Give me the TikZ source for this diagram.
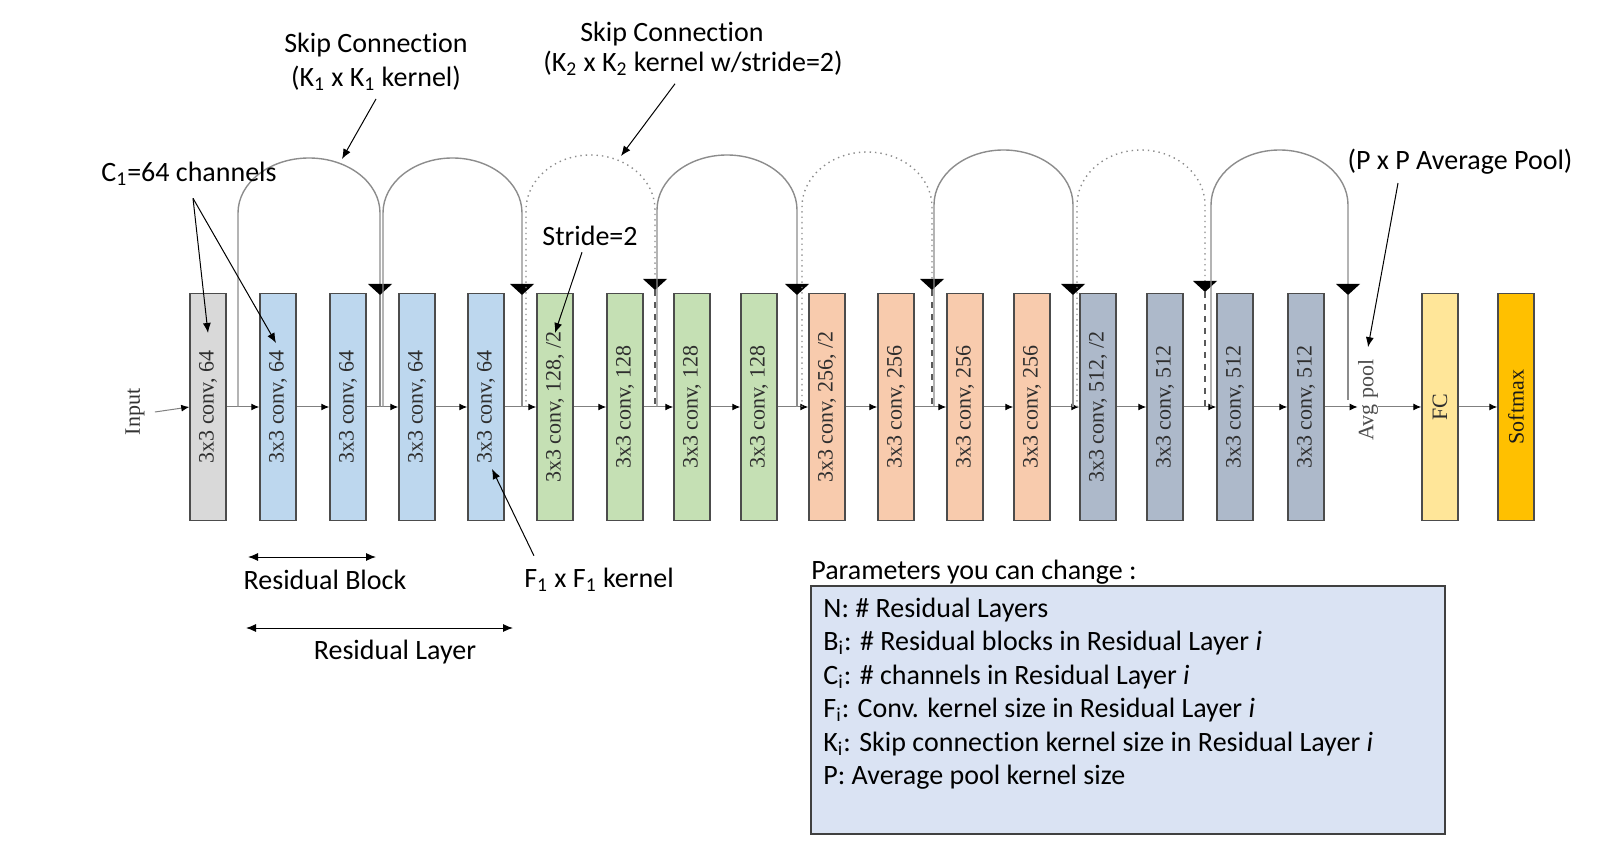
\documentclass[tikz,border=0pt]{standalone}
\usepackage{fontspec}
\setmainfont{Carlito}[Ligatures=NoCommon]
\newfontfamily\tnr{Liberation Serif}
\usepackage{graphicx}
\usetikzlibrary{arrows.meta}

\definecolor{convgray}{HTML}{D9D9D9}
\definecolor{convblue}{HTML}{BDD7EE}
\definecolor{convgreen}{HTML}{C5E0B4}
\definecolor{convorange}{HTML}{F8CBAD}
\definecolor{convslate}{HTML}{ADB9CA}
\definecolor{fcyellow}{HTML}{FFE699}
\definecolor{smaxgold}{HTML}{FFC000}
\definecolor{parblue}{HTML}{DAE3F3}

\begin{document}
\begin{tikzpicture}[x=0.5pt,y=0.5pt]
	\tikzstyle{every node}+=[inner sep=0pt]
	\tikzstyle{convbox}=[draw=black!70, line width=0.75pt, minimum width=18pt, minimum height=113.5pt, text=black!82, font=\tnr\fontsize{11}{13}\selectfont]
	\tikzstyle{flow}=[draw=black!50, line width=0.5pt, -{Latex[black,length=4pt,width=3.5pt]}]
	\tikzstyle{skip}=[draw=black!45, line width=0.7pt]
	\tikzstyle{skipdot}=[draw=black!45, line width=0.7pt, dotted]
	\tikzstyle{skipdash}=[draw=black!65, line width=0.8pt, dashed]
	\tikzstyle{callout}=[draw=black, line width=0.5pt, -{Latex[length=5pt,width=4pt]}]
	\tikzstyle{spanarrow}=[draw=black, line width=0.5pt, {Latex[length=5pt,width=4pt]}-{Latex[length=5pt,width=4pt]}]
	\tikzstyle{note}=[font=\fontsize{14}{16.7}\selectfont]
	\useasboundingbox (0,0) rectangle (1610,-860);
	\node[text=black!80, font=\tnr\fontsize{11}{13}\selectfont] (inp) at (135,-412) {\rotatebox{90}{Input}};
	\node[convbox, fill=convgray] (c0) at (208,-407) {\rotatebox{90}{3x3 conv, 64}};
	\node[convbox, fill=convblue] (c1) at (278,-407) {\rotatebox{90}{3x3 conv, 64}};
	\node[convbox, fill=convblue] (c2) at (348,-407) {\rotatebox{90}{3x3 conv, 64}};
	\node[convbox, fill=convblue] (c3) at (417,-407) {\rotatebox{90}{3x3 conv, 64}};
	\node[convbox, fill=convblue] (c4) at (486,-407) {\rotatebox{90}{3x3 conv, 64}};
	\node[convbox, fill=convgreen] (c5) at (555,-407) {\rotatebox{90}{3x3 conv, 128, /2}};
	\node[convbox, fill=convgreen] (c6) at (625,-407) {\rotatebox{90}{3x3 conv, 128}};
	\node[convbox, fill=convgreen] (c7) at (692,-407) {\rotatebox{90}{3x3 conv, 128}};
	\node[convbox, fill=convgreen] (c8) at (759,-407) {\rotatebox{90}{3x3 conv, 128}};
	\node[convbox, fill=convorange] (c9) at (827,-407) {\rotatebox{90}{3x3 conv, 256, /2}};
	\node[convbox, fill=convorange] (c10) at (896,-407) {\rotatebox{90}{3x3 conv, 256}};
	\node[convbox, fill=convorange] (c11) at (965,-407) {\rotatebox{90}{3x3 conv, 256}};
	\node[convbox, fill=convorange] (c12) at (1032,-407) {\rotatebox{90}{3x3 conv, 256}};
	\node[convbox, fill=convslate] (c13) at (1098,-407) {\rotatebox{90}{3x3 conv, 512, /2}};
	\node[convbox, fill=convslate] (c14) at (1165,-407) {\rotatebox{90}{3x3 conv, 512}};
	\node[convbox, fill=convslate] (c15) at (1235,-407) {\rotatebox{90}{3x3 conv, 512}};
	\node[convbox, fill=convslate] (c16) at (1306,-407) {\rotatebox{90}{3x3 conv, 512}};
	\node[text=black!70, font=\tnr\fontsize{11}{13}\selectfont] (avg) at (1368,-400) {\rotatebox{90}{Avg pool}};
	\node[convbox, fill=fcyellow] (fc) at (1440,-407) {\rotatebox{90}{FC}};
	\node[convbox, fill=smaxgold, text=black!90] (smax) at (1516,-407) {\rotatebox{90}{Softmax}};
	\draw[flow] ([xshift=5pt]inp.east) -- (c0.west);
	\draw[flow] (c0) -- (c1);
	\draw[flow] (c1) -- (c2);
	\draw[flow] (c2) -- (c3);
	\draw[flow] (c3) -- (c4);
	\draw[flow] (c4) -- (c5);
	\draw[flow] (c5) -- (c6);
	\draw[flow] (c6) -- (c7);
	\draw[flow] (c7) -- (c8);
	\draw[flow] (c8) -- (c9);
	\draw[flow] (c9) -- (c10);
	\draw[flow] (c10) -- (c11);
	\draw[flow] (c11) -- (c12);
	\draw[flow] (c12) -- (c13);
	\draw[flow] (c13) -- (c14);
	\draw[flow] (c14) -- (c15);
	\draw[flow] (c15) -- (c16);
	\draw[flow] (c16.east) -- (c16.east -| avg.west);
	\draw[flow] (avg.east |- fc.west) -- (fc.west);
	\draw[flow] (fc) -- (smax);
	\coordinate (k1a) at (238,-407);
	\coordinate (k1b) at (380,-407);
	\coordinate (h1) at (380,-284);
	\draw[skip] (k1a) -- ++(0,194) arc[start angle=180, end angle=0, x radius=71, y radius=55] -- (h1);
	\fill (h1) -- ++(12,0) -- ++(-12,-11) -- ++(-12,11) -- cycle;
	\draw[skip] ([yshift=-5.5pt]h1) -- (k1b);
	\coordinate (k2a) at (383,-407);
	\coordinate (k2b) at (522,-407);
	\coordinate (h2) at (522,-284);
	\draw[skip] (k2a) -- ++(0,194) arc[start angle=180, end angle=0, x radius=69.5, y radius=55] -- (h2);
	\fill (h2) -- ++(12,0) -- ++(-12,-11) -- ++(-12,11) -- cycle;
	\draw[skip] ([yshift=-5.5pt]h2) -- (k2b);
	\coordinate (k3a) at (526,-407);
	\coordinate (k3b) at (655,-407);
	\coordinate (h3) at (655,-279);
	\draw[skipdot] (k3a) -- ++(0,197) arc[start angle=180, end angle=0, x radius=64.5, y radius=55] -- (h3);
	\fill (h3) -- ++(12,0) -- ++(-12,-11) -- ++(-12,11) -- cycle;
	\draw[skipdash] ([yshift=-5.5pt]h3) -- (k3b);
	\coordinate (k4a) at (657,-407);
	\coordinate (k4b) at (797,-407);
	\coordinate (h4) at (797,-284);
	\draw[skip] (k4a) -- ++(0,197) arc[start angle=180, end angle=0, x radius=70, y radius=55] -- (h4);
	\fill (h4) -- ++(12,0) -- ++(-12,-11) -- ++(-12,11) -- cycle;
	\draw[skip] ([yshift=-5.5pt]h4) -- (k4b);
	\coordinate (k5a) at (802,-407);
	\coordinate (k5b) at (932,-407);
	\coordinate (h5) at (932,-279);
	\draw[skipdot] (k5a) -- ++(0,200) arc[start angle=180, end angle=0, x radius=65, y radius=55] -- (h5);
	\fill (h5) -- ++(12,0) -- ++(-12,-11) -- ++(-12,11) -- cycle;
	\draw[skipdash] ([yshift=-5.5pt]h5) -- (k5b);
	\coordinate (k6a) at (934,-407);
	\coordinate (k6b) at (1073,-407);
	\coordinate (h6) at (1073,-284);
	\draw[skip] (k6a) -- ++(0,202) arc[start angle=180, end angle=0, x radius=69.5, y radius=55] -- (h6);
	\fill (h6) -- ++(12,0) -- ++(-12,-11) -- ++(-12,11) -- cycle;
	\draw[skip] ([yshift=-5.5pt]h6) -- (k6b);
	\coordinate (k7a) at (1077,-407);
	\coordinate (k7b) at (1205,-407);
	\coordinate (h7) at (1205,-281);
	\draw[skipdot] (k7a) -- ++(0,202) arc[start angle=180, end angle=0, x radius=64, y radius=55] -- (h7);
	\fill (h7) -- ++(12,0) -- ++(-12,-11) -- ++(-12,11) -- cycle;
	\draw[skipdash] ([yshift=-5.5pt]h7) -- (k7b);
	\coordinate (k8a) at (1211,-407);
	\coordinate (k8b) at (1348,-400);
	\coordinate (h8) at (1348,-284);
	\draw[skip] (k8a) -- ++(0,202) arc[start angle=180, end angle=0, x radius=68.5, y radius=55] -- (h8);
	\fill (h8) -- ++(12,0) -- ++(-12,-11) -- ++(-12,11) -- cycle;
	\draw[skip] ([yshift=-5.5pt]h8) -- (k8b);
	\node[note, align=center] (skipA) at (376,-62) {Skip Connection\\(K\textsubscript{1} x K\textsubscript{1} kernel)};
	\node[note] (skipB1) at (672,-34) {Skip Connection};
	\node[note] (skipB2) at (693,-63) {(K\textsubscript{2} x K\textsubscript{2} kernel w/stride=2)};
	\node[note] (chan) at (189,-174) {C\textsubscript{1}=64 channels};
	\node[note] (stride) at (590,-236) {Stride=2};
	\node[note] (fker) at (599,-580) {F\textsubscript{1} x F\textsubscript{1} kernel};
	\node[note] (pool) at (1460,-162) {(P x P Average Pool)};
	\node[note] (rblock) at (325,-580) {Residual Block};
	\node[note] (rlayer) at (395,-652) {Residual Layer};
	\coordinate (top1) at (342,-159);
	\coordinate (top3) at (621,-156);
	\draw[callout] ([yshift=-4pt]skipA.south) -- (top1);
	\draw[callout] ([xshift=-9pt,yshift=-4pt]skipB2.south) -- (top3);
	\draw[callout] ([xshift=2pt,yshift=-6pt]chan.south) -- ([yshift=37pt]c0.center);
	\draw[callout] ([xshift=2pt,yshift=-6pt]chan.south) -- ([xshift=-1pt,yshift=32pt]c1.center);
	\draw[callout] ([xshift=-4pt,yshift=-3pt]stride.south) -- ([yshift=37pt]c5.center);
	\draw[callout] ([xshift=5pt,yshift=6pt]fker.north west) -- ([xshift=3pt,yshift=-31pt]c4.center);
	\draw[callout] ([xshift=-31pt,yshift=-4pt]pool.south) -- ([yshift=6pt]avg.north);
	\coordinate (rbL) at (248,-557);
	\coordinate (rbR) at (376,-557);
	\coordinate (rlL) at (246,-628);
	\coordinate (rlR) at (513,-628);
	\draw[spanarrow] (rbL) -- (rbR);
	\draw[spanarrow] (rlL) -- (rlR);
	\node[draw=black!75, fill=parblue, line width=0.7pt, minimum width=317pt, minimum height=124pt] (pbox) at (1128,-710) {};
	\node[note, anchor=base west] (ptitle) at (811,-579) {Parameters you can change :};
	\node[note, anchor=base west] (p1) at (823,-617) {N: \# Residual Layers};
	\node[note, anchor=base west] (p2) at (823,-650) {B\textsubscript{i}: \# Residual blocks in Residual Layer \textit{i}};
	\node[note, anchor=base west] (p3) at (823,-684) {C\textsubscript{i}: \# channels in Residual Layer \textit{i}};
	\node[note, anchor=base west] (p4) at (823,-717) {F\textsubscript{i}: Conv. kernel size in Residual Layer \textit{i}};
	\node[note, anchor=base west] (p5) at (823,-751) {K\textsubscript{i}: Skip connection kernel size in Residual Layer \textit{i}};
	\node[note, anchor=base west] (p6) at (823,-784) {P: Average pool kernel size};
\end{tikzpicture}
\end{document}
